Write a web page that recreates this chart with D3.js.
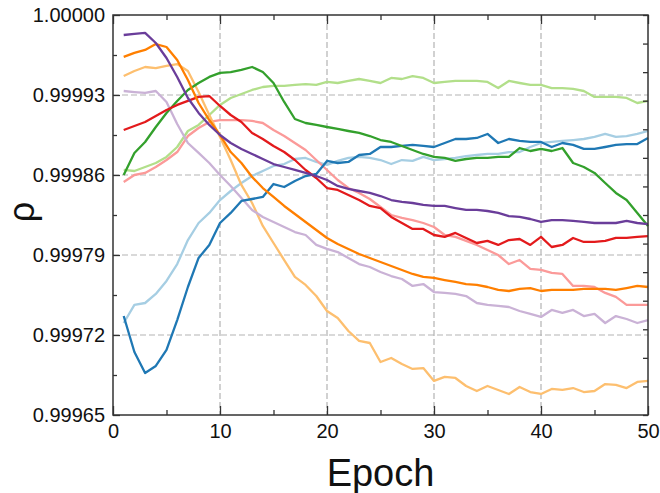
<!DOCTYPE html>
<html>
<head>
<meta charset="utf-8">
<script src="https://cdn.jsdelivr.net/npm/d3@7"></script>
<style>
  body { margin: 0; background: #fff; }
  svg { font-family: "Liberation Sans", Arial, sans-serif; }
</style>
</head>
<body>
<div id="chart"></div>
<script>
// Correlation (rho) per training epoch, 10 runs
const epochs = d3.range(1, 51);

const lightBlue = [0.9997305, 0.9997463, 0.9997480, 0.9997559, 0.9997673, 0.9997821, 0.9998031, 0.9998180, 0.9998268, 0.9998381,
  0.9998460, 0.9998530, 0.9998591, 0.9998635, 0.9998679, 0.9998696, 0.9998740, 0.9998749, 0.9998714, 0.9998688,
  0.9998723, 0.9998749, 0.9998758, 0.9998749, 0.9998731, 0.9998696, 0.9998731, 0.9998723, 0.9998758, 0.9998731,
  0.9998740, 0.9998749, 0.9998766, 0.9998775, 0.9998784, 0.9998784, 0.9998801, 0.9998801, 0.9998845, 0.9998880,
  0.9998889, 0.9998898, 0.9998906, 0.9998915, 0.9998933, 0.9998959, 0.9998933, 0.9998941, 0.9998959, 0.9998985];
const blue = [0.9997366, 0.9997051, 0.9996868, 0.9996929, 0.9997069, 0.9997331, 0.9997620, 0.9997874, 0.9997988, 0.9998180,
  0.9998268, 0.9998373, 0.9998390, 0.9998408, 0.9998521, 0.9998495, 0.9998548, 0.9998591, 0.9998609, 0.9998723,
  0.9998705, 0.9998714, 0.9998775, 0.9998784, 0.9998845, 0.9998845, 0.9998854, 0.9998863, 0.9998854, 0.9998845,
  0.9998880, 0.9998915, 0.9998915, 0.9998924, 0.9998959, 0.9998880, 0.9998915, 0.9998898, 0.9998889, 0.9998889,
  0.9998845, 0.9998880, 0.9998863, 0.9998828, 0.9998828, 0.9998845, 0.9998863, 0.9998871, 0.9998871, 0.9998924];
const lightGreen = [0.9998644, 0.9998635, 0.9998670, 0.9998705, 0.9998758, 0.9998845, 0.9998985, 0.9999038, 0.9999125, 0.9999213,
  0.9999274, 0.9999309, 0.9999344, 0.9999370, 0.9999379, 0.9999379, 0.9999388, 0.9999396, 0.9999388, 0.9999414,
  0.9999405, 0.9999423, 0.9999440, 0.9999423, 0.9999405, 0.9999449, 0.9999440, 0.9999466, 0.9999449, 0.9999405,
  0.9999414, 0.9999423, 0.9999423, 0.9999423, 0.9999414, 0.9999361, 0.9999423, 0.9999405, 0.9999388, 0.9999388,
  0.9999361, 0.9999361, 0.9999353, 0.9999335, 0.9999283, 0.9999283, 0.9999283, 0.9999274, 0.9999230, 0.9999248];
const green = [0.9998600, 0.9998793, 0.9998889, 0.9999020, 0.9999143, 0.9999248, 0.9999344, 0.9999405, 0.9999458, 0.9999493,
  0.9999501, 0.9999519, 0.9999545, 0.9999501, 0.9999405, 0.9999239, 0.9999090, 0.9999055, 0.9999038, 0.9999020,
  0.9999003, 0.9998985, 0.9998968, 0.9998941, 0.9998906, 0.9998889, 0.9998854, 0.9998819, 0.9998784, 0.9998758,
  0.9998749, 0.9998723, 0.9998740, 0.9998749, 0.9998749, 0.9998758, 0.9998758, 0.9998836, 0.9998810, 0.9998828,
  0.9998810, 0.9998836, 0.9998705, 0.9998670, 0.9998618, 0.9998530, 0.9998443, 0.9998381, 0.9998268, 0.9998154];
const pink = [0.9998539, 0.9998600, 0.9998618, 0.9998670, 0.9998731, 0.9998801, 0.9998941, 0.9999011, 0.9999064, 0.9999081,
  0.9999081, 0.9999081, 0.9999073, 0.9999055, 0.9998994, 0.9998941, 0.9998880, 0.9998819, 0.9998731, 0.9998644,
  0.9998556, 0.9998486, 0.9998443, 0.9998390, 0.9998320, 0.9998250, 0.9998224, 0.9998206, 0.9998180, 0.9998145,
  0.9998075, 0.9998058, 0.9998023, 0.9997988, 0.9997944, 0.9997900, 0.9997821, 0.9997856, 0.9997778, 0.9997769,
  0.9997743, 0.9997734, 0.9997629, 0.9997629, 0.9997620, 0.9997568, 0.9997533, 0.9997463, 0.9997463, 0.9997463];
const red = [0.9998994, 0.9999029, 0.9999064, 0.9999116, 0.9999169, 0.9999213, 0.9999248, 0.9999283, 0.9999291, 0.9999204,
  0.9999125, 0.9999064, 0.9998968, 0.9998915, 0.9998854, 0.9998801, 0.9998731, 0.9998644, 0.9998574, 0.9998486,
  0.9998469, 0.9998425, 0.9998381, 0.9998329, 0.9998311, 0.9998233, 0.9998180, 0.9998128, 0.9998128, 0.9998075,
  0.9998058, 0.9998093, 0.9998049, 0.9998005, 0.9998023, 0.9997988, 0.9998031, 0.9998040, 0.9997988, 0.9998058,
  0.9997970, 0.9997988, 0.9998049, 0.9998014, 0.9998014, 0.9998023, 0.9998049, 0.9998049, 0.9998058, 0.9998066];
const lightOrange = [0.9999466, 0.9999510, 0.9999545, 0.9999536, 0.9999554, 0.9999571, 0.9999510, 0.9999326, 0.9999125, 0.9998933,
  0.9998731, 0.9998513, 0.9998355, 0.9998154, 0.9998005, 0.9997856, 0.9997708, 0.9997638, 0.9997541, 0.9997410,
  0.9997349, 0.9997235, 0.9997148, 0.9997130, 0.9996964, 0.9996999, 0.9996946, 0.9996903, 0.9996911, 0.9996798,
  0.9996833, 0.9996824, 0.9996754, 0.9996710, 0.9996754, 0.9996719, 0.9996684, 0.9996745, 0.9996701, 0.9996684,
  0.9996728, 0.9996719, 0.9996736, 0.9996701, 0.9996710, 0.9996771, 0.9996763, 0.9996736, 0.9996789, 0.9996798];
const orange = [0.9999633, 0.9999668, 0.9999694, 0.9999746, 0.9999720, 0.9999606, 0.9999431, 0.9999230, 0.9999081, 0.9998950,
  0.9998801, 0.9998705, 0.9998583, 0.9998486, 0.9998408, 0.9998329, 0.9998259, 0.9998189, 0.9998119, 0.9998049,
  0.9997996, 0.9997953, 0.9997909, 0.9997874, 0.9997839, 0.9997804, 0.9997769, 0.9997734, 0.9997708, 0.9997699,
  0.9997681, 0.9997664, 0.9997646, 0.9997638, 0.9997620, 0.9997594, 0.9997585, 0.9997603, 0.9997611, 0.9997585,
  0.9997594, 0.9997594, 0.9997594, 0.9997603, 0.9997603, 0.9997603, 0.9997594, 0.9997611, 0.9997629, 0.9997620];
const lightPurple = [0.9999335, 0.9999326, 0.9999318, 0.9999335, 0.9999239, 0.9999046, 0.9998880, 0.9998793, 0.9998705, 0.9998600,
  0.9998504, 0.9998399, 0.9998294, 0.9998233, 0.9998189, 0.9998145, 0.9998101, 0.9998075, 0.9997988, 0.9997953,
  0.9997926, 0.9997874, 0.9997821, 0.9997795, 0.9997751, 0.9997716, 0.9997690, 0.9997629, 0.9997646, 0.9997576,
  0.9997568, 0.9997559, 0.9997541, 0.9997480, 0.9997463, 0.9997454, 0.9997445, 0.9997410, 0.9997384, 0.9997358,
  0.9997419, 0.9997393, 0.9997419, 0.9997366, 0.9997384, 0.9997305, 0.9997366, 0.9997340, 0.9997305, 0.9997331];
const purple = [0.9999825, 0.9999834, 0.9999843, 0.9999755, 0.9999624, 0.9999458, 0.9999274, 0.9999143, 0.9999038, 0.9998950,
  0.9998880, 0.9998828, 0.9998784, 0.9998740, 0.9998696, 0.9998670, 0.9998644, 0.9998618, 0.9998591, 0.9998556,
  0.9998504, 0.9998478, 0.9998460, 0.9998443, 0.9998416, 0.9998381, 0.9998364, 0.9998355, 0.9998338, 0.9998329,
  0.9998329, 0.9998311, 0.9998294, 0.9998294, 0.9998285, 0.9998268, 0.9998241, 0.9998233, 0.9998215, 0.9998189,
  0.9998206, 0.9998206, 0.9998198, 0.9998189, 0.9998180, 0.9998180, 0.9998180, 0.9998198, 0.9998180, 0.9998171];

const xTicks = [0, 10, 20, 30, 40, 50];
const yTicks = [0.99965, 0.99972, 0.99979, 0.99986, 0.99993, 1.00000];

// draw order: light shades underneath
const series = [
  {values: lightBlue, color: '#a6cee3'},
  {values: lightGreen, color: '#b2df8a'},
  {values: pink, color: '#fb9a99'},
  {values: lightOrange, color: '#fdbf6f'},
  {values: lightPurple, color: '#cab2d6'},
  {values: blue, color: '#1f78b4'},
  {values: green, color: '#33a02c'},
  {values: red, color: '#e31a1c'},
  {values: orange, color: '#ff7f00'},
  {values: purple, color: '#6a3d9a'}
];

function createRhoChart(containerId) {
  const width = 660, height = 493;
  const margin = {top: 15, right: 12, bottom: 78, left: 113};
  const w = width - margin.left - margin.right;
  const h = height - margin.top - margin.bottom;

  const svg = d3.select('#' + containerId)
    .append('svg')
    .attr('width', width)
    .attr('height', height);

  const g = svg.append('g')
    .attr('transform', `translate(${margin.left},${margin.top})`);

  const x = d3.scaleLinear().domain([0, 50]).range([0, w]);
  const y = d3.scaleLinear().domain([0.99965, 1.0]).range([h, 0]);

  // dashed grid on the inner major ticks
  g.append('g').selectAll('line')
    .data(xTicks.slice(1, -1)).join('line')
    .attr('x1', d => x(d)).attr('x2', d => x(d))
    .attr('y1', 0).attr('y2', h)
    .attr('stroke', '#b3b3b3').attr('stroke-width', 1.2)
    .attr('stroke-dasharray', '6,3');
  g.append('g').selectAll('line')
    .data(yTicks.slice(1, -1)).join('line')
    .attr('x1', 0).attr('x2', w)
    .attr('y1', d => y(d)).attr('y2', d => y(d))
    .attr('stroke', '#b3b3b3').attr('stroke-width', 1.2)
    .attr('stroke-dasharray', '6,3');

  // lines
  const line = d3.line()
    .x((d, i) => x(epochs[i]))
    .y(d => y(d));

  g.append('g').selectAll('path')
    .data(series).join('path')
    .attr('d', d => line(d.values))
    .attr('fill', 'none')
    .attr('stroke', d => d.color)
    .attr('stroke-width', 2.3)
    .attr('stroke-linejoin', 'round');

  // axes, ticks pointing inward
  const minorX = d3.range(5, 50, 10);
  const minorY = yTicks.slice(0, -1).map((d, i) => (d + yTicks[i + 1]) / 2);
  const rightY = d3.range(0, 15).map(i => 0.99965 + i * 0.000025);

  const axisStyle = sel => {
    sel.select('.domain').remove();
    sel.selectAll('line').attr('stroke', '#333').attr('stroke-width', 1.3);
    sel.selectAll('text').attr('fill', '#111').attr('font-size', 20);
  };

  g.append('g')
    .attr('transform', `translate(0,${h})`)
    .call(d3.axisBottom(x).tickValues(xTicks).tickFormat(d3.format('d')).tickSizeInner(-9).tickPadding(9))
    .call(axisStyle);
  g.append('g')
    .attr('transform', `translate(0,${h})`)
    .call(d3.axisBottom(x).tickValues(minorX).tickFormat('').tickSizeInner(-5))
    .call(axisStyle);
  g.append('g')
    .call(d3.axisTop(x).tickValues(xTicks).tickFormat('').tickSizeInner(-9))
    .call(axisStyle);
  g.append('g')
    .call(d3.axisTop(x).tickValues(minorX).tickFormat('').tickSizeInner(-5))
    .call(axisStyle);

  g.append('g')
    .call(d3.axisLeft(y).tickValues(yTicks).tickFormat(d3.format('.5f')).tickSizeInner(-7).tickPadding(8))
    .call(axisStyle);
  g.append('g')
    .call(d3.axisLeft(y).tickValues(minorY).tickFormat('').tickSizeInner(-4))
    .call(axisStyle);
  g.append('g')
    .attr('transform', `translate(${w},0)`)
    .call(d3.axisRight(y).tickValues(rightY).tickFormat('').tickSizeInner(-5))
    .call(axisStyle);

  // frame
  g.append('rect')
    .attr('width', w).attr('height', h)
    .attr('fill', 'none')
    .attr('stroke', '#333')
    .attr('stroke-width', 1.5);

  // axis titles
  svg.append('text')
    .attr('x', margin.left + w / 2)
    .attr('y', 486)
    .attr('text-anchor', 'middle')
    .attr('font-size', 38)
    .attr('fill', '#111')
    .text('Epoch');

  svg.append('text')
    .attr('transform', 'translate(34,212) rotate(-90)')
    .attr('text-anchor', 'middle')
    .attr('font-size', 36)
    .attr('fill', '#111')
    .text('ρ');
}

document.addEventListener('DOMContentLoaded', function() {
  createRhoChart('chart');
});
</script>
</body>
</html>
